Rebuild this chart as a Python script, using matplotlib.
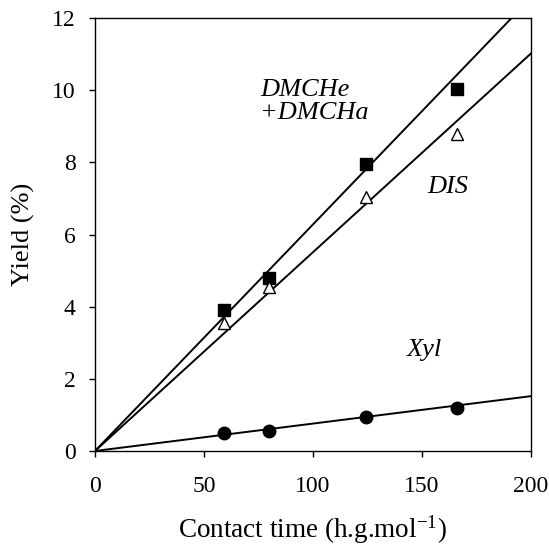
import matplotlib.pyplot as plt
import numpy as np

plt.rcParams['font.family'] = ['Liberation Serif', 'DejaVu Serif']
plt.rcParams['mathtext.fontset'] = 'custom'
plt.rcParams['mathtext.rm'] = 'Liberation Serif'
plt.rcParams['mathtext.it'] = 'Liberation Serif:italic'

# ── data ─────────────────────────────────────────────────────────────────────
contact_time = [59, 80, 124.5, 166]
dmch_yield = [3.9, 4.8, 7.95, 10.05]
dis_yield = [3.55, 4.55, 7.05, 8.8]
xyl_yield = [0.5, 0.55, 0.95, 1.18]

# slopes of the straight fits through the origin
dmch_slope = 0.0628
dis_slope = 0.0551
xyl_slope = 0.0076

x_ticks = [0, 50, 100, 150, 200]
y_ticks = [0, 2, 4, 6, 8, 10, 12]

# ── figure ───────────────────────────────────────────────────────────────────
fig = plt.figure(figsize=(5.49, 5.51), dpi=100)
ax = fig.add_axes([0.173, 0.1815, 0.794, 0.7855])

x_fit = np.array([0, 200])
for slope in (dmch_slope, dis_slope, xyl_slope):
    ax.plot(x_fit, slope * x_fit, color="black", linewidth=1.4, zorder=2)

ax.plot(contact_time, dmch_yield, "s", color="black", markersize=8, zorder=3)
ax.plot(contact_time, dis_yield, "^", markerfacecolor="white",
        markeredgecolor="black", markeredgewidth=1.0, markersize=9, zorder=3)
ax.plot(contact_time, xyl_yield, "o", color="black", markersize=9, zorder=3)

lbl = dict(fontsize=19, style="italic", va="center", ha="left")
ax.text(75.7, 10.0, "DMCHe", **lbl)
ax.text(75.7, 9.37, "+DMCHa", **lbl)
ax.text(152.3, 7.32, "DIS", **lbl)
ax.text(143, 2.8, "Xyl", **lbl)

ax.set_xlim(0, 200)
ax.set_ylim(0, 12)
ax.set_xticks(x_ticks)
ax.set_yticks(y_ticks)
ax.tick_params(direction="out", length=4, width=1, labelsize=17)
ax.tick_params(axis="x", pad=14)
ax.tick_params(axis="y", pad=10)
for s in ax.spines.values():
    s.set_linewidth(1.0)

ax.set_xlabel("Contact time (h.g.mol$^{\\mathregular{-1}}$)", fontsize=19.5, labelpad=12)
ax.set_ylabel("Yield (%)", fontsize=19, labelpad=12)

fig.savefig("out.png", dpi=100)
